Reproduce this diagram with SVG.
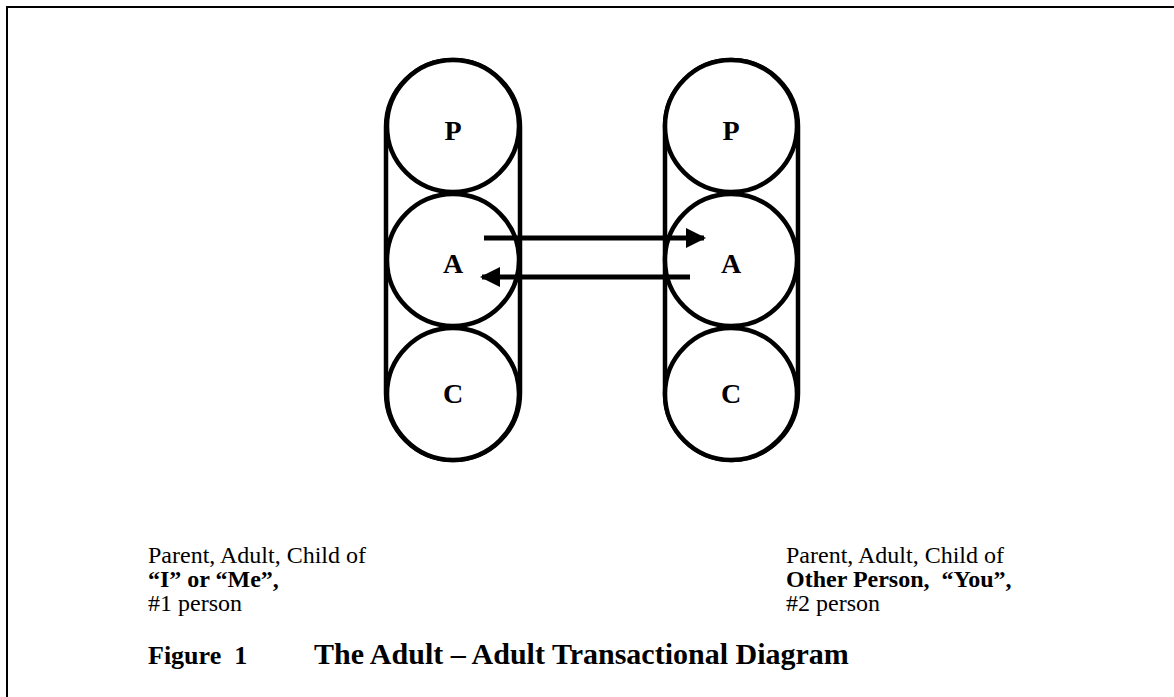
<svg xmlns="http://www.w3.org/2000/svg" width="1174" height="697" viewBox="0 0 1174 697">
<style>
.frame{fill:none;stroke:#000;stroke-width:2}
.cap{fill:none;stroke:#000;stroke-width:4.5}
.circ{fill:#fff;stroke:#000;stroke-width:4.5}
.lbl{font-family:"Liberation Serif","Times New Roman",serif;font-weight:bold;font-size:28px;text-anchor:middle;fill:#000}
.txt{font-family:"Liberation Serif","Times New Roman",serif;font-size:24px;fill:#000;white-space:pre}
.b{font-weight:bold}
.conn{stroke:#000;stroke-width:5;fill:none}
</style>
<defs>
<marker id="arrow" viewBox="0 0 10 10" refX="9" refY="5" markerWidth="24" markerHeight="20" markerUnits="userSpaceOnUse" orient="auto">
<path d="M0,0 L10,5 L0,10 z" fill="#000"/>
</marker>
</defs>
<rect width="1174" height="697" fill="#fff"/>
<path class="frame" d="M7,697 V7 H1174"/>
<g id="person1">
<rect class="cap" x="386" y="60" width="134" height="400" rx="67" ry="67"/>
<g id="p1-P"><circle class="circ" cx="453" cy="126" r="66"/><text class="lbl" x="453" y="140">P</text></g>
<g id="p1-A"><circle class="circ" cx="453" cy="260" r="66"/><text class="lbl" x="453" y="273">A</text></g>
<g id="p1-C"><circle class="circ" cx="453" cy="394" r="66"/><text class="lbl" x="453" y="403">C</text></g>
</g>
<g id="person2">
<rect class="cap" x="665" y="60" width="133" height="400" rx="66.5" ry="66.5"/>
<g id="p2-P"><circle class="circ" cx="731" cy="126" r="66"/><text class="lbl" x="731" y="140">P</text></g>
<g id="p2-A"><circle class="circ" cx="731" cy="260" r="66"/><text class="lbl" x="731" y="273">A</text></g>
<g id="p2-C"><circle class="circ" cx="731" cy="394" r="66"/><text class="lbl" x="731" y="403">C</text></g>
</g>
<g id="connectors">
<line class="conn" x1="484" y1="238" x2="704" y2="238" marker-end="url(#arrow)"/>
<line class="conn" x1="690" y1="277" x2="482" y2="277" marker-end="url(#arrow)"/>
</g>
<g id="label1">
<text class="txt" x="148" y="563">Parent, Adult, Child of</text>
<text class="txt b" x="148" y="587">“I” or “Me”,</text>
<text class="txt" x="148" y="611">#1 person</text>
</g>
<g id="label2">
<text class="txt" x="786" y="563">Parent, Adult, Child of</text>
<text class="txt b" x="786" y="587" xml:space="preserve">Other Person,  “You”,</text>
<text class="txt" x="786" y="611">#2 person</text>
</g>
<g id="caption">
<text class="txt b" x="148" y="664" style="font-size:26px" xml:space="preserve">Figure  1</text>
<text class="txt b" x="314" y="664" style="font-size:30px">The Adult – Adult Transactional Diagram</text>
</g>
</svg>
